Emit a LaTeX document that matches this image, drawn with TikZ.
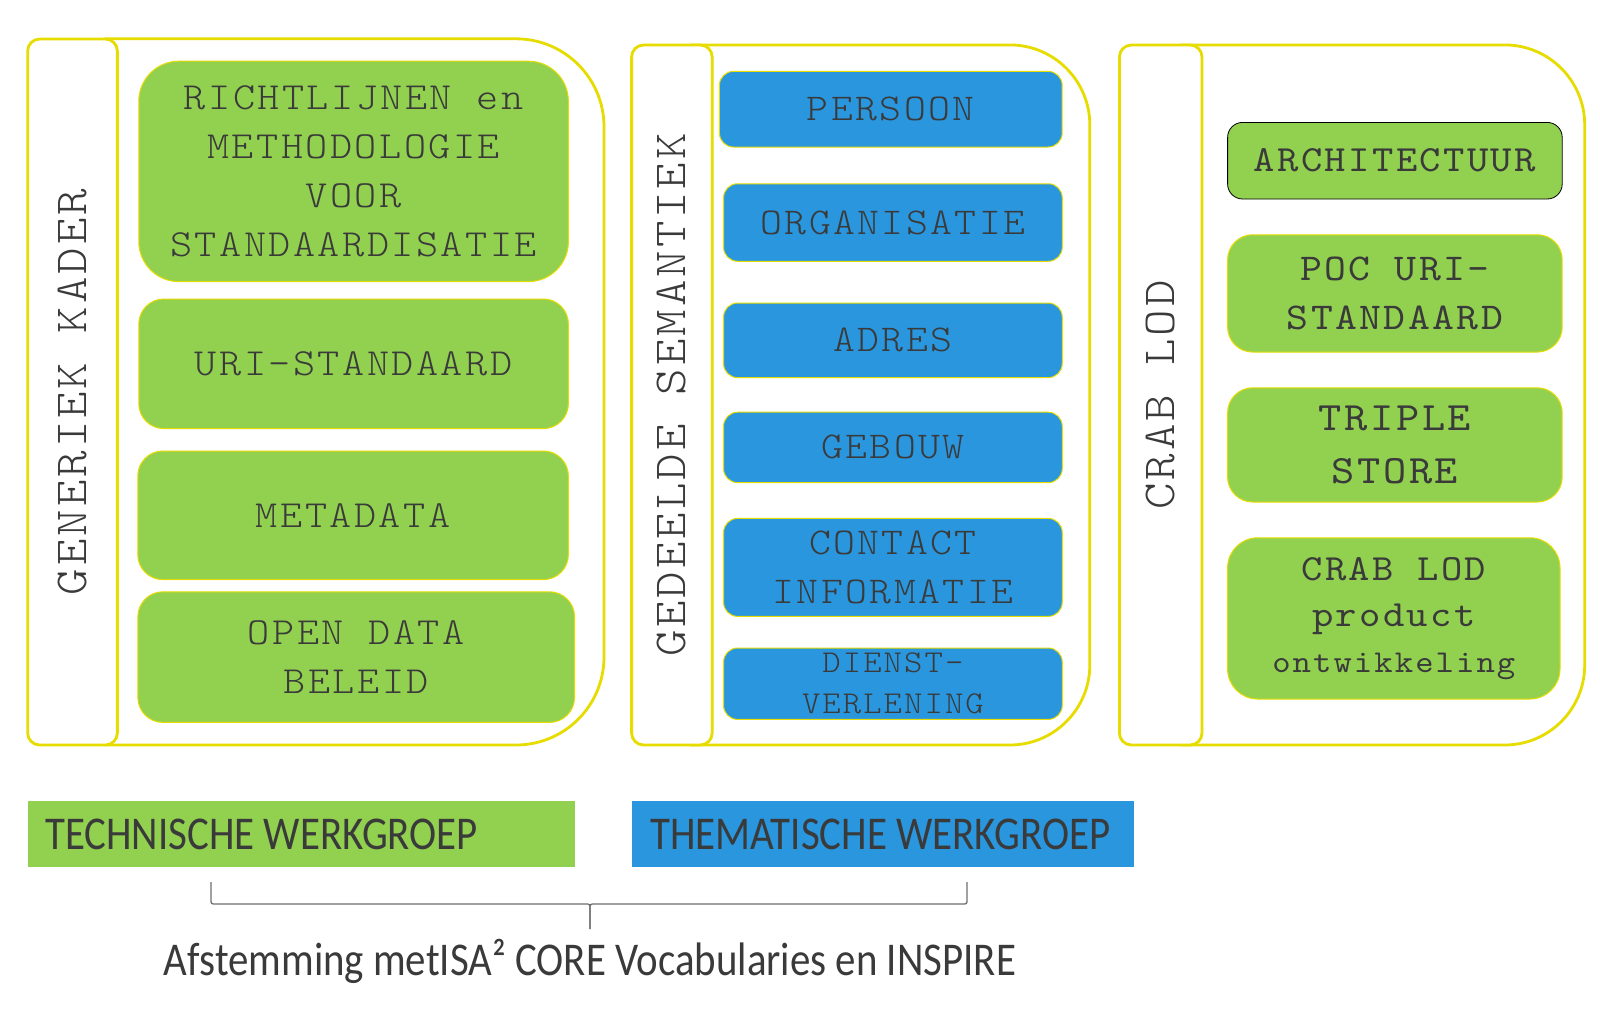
\documentclass[tikz,border=0pt]{standalone}
\usepackage{fontspec}
\usepackage{graphicx}
\setmainfont{Carlito}
\newfontfamily\mono[Extension=.otf, FakeStretch=1.1, LetterSpace=6.5]{lmmonolt10-regular}
\newfontfamily\monoheavy[Extension=.otf, FakeStretch=1.1, LetterSpace=6.5]{lmmono10-regular}
\definecolor{ygreen}{RGB}{146,208,80}
\definecolor{sblue}{RGB}{41,150,222}
\definecolor{ylw}{RGB}{230,220,0}
\definecolor{txt}{RGB}{58,58,58}
\definecolor{brc}{RGB}{110,110,110}
\tikzset{
  panel/.style={draw=ylw, line width=2.8pt, fill=white},
  strip/.style={draw=ylw, line width=2.8pt, fill=white, rounded corners=12pt, rotate=90,
    text=txt, inner sep=0pt, font=\mono\fontsize{45.8}{58}\selectfont},
  gbox/.style={draw=ylw, line width=1pt, fill=ygreen, text=txt, align=center, inner sep=0pt},
  bbox/.style={draw=ylw, line width=1pt, fill=sblue, text=txt, align=center, inner sep=0pt},
  wgbox/.style={draw=none, inner sep=0pt},
  wgtext/.style={text=txt, inner sep=0pt, font=\fontsize{47}{56}\selectfont},
  bracepath/.style={draw=brc, line width=1.3pt},
}
\begin{document}
\begin{tikzpicture}[x=1pt, y=-1pt]
\useasboundingbox (0,0) rectangle (1600,1023);

% ---------- Panel 1 ----------
\draw[panel, rounded corners=88pt] (105,38.8) -- (604,38.8) -- (604,745) -- (105,745);
\node[strip, minimum width=706pt, minimum height=89.7pt] (s1) at (72.5,392) {GENERIEK KADER};
\node[gbox, rounded corners=40pt, minimum width=429.6pt, minimum height=220.4pt,
  font=\mono\fontsize{38.3}{49}\selectfont] (richt) at (353.6,171.4)
  {RICHTLIJNEN en\\METHODOLOGIE\\VOOR\\STANDAARDISATIE};
\node[gbox, rounded corners=25pt, minimum width=429.6pt, minimum height=129.6pt,
  font=\mono\fontsize{38.3}{49}\selectfont] (uri) at (353.6,363.8) {URI-STANDAARD};
\node[gbox, rounded corners=25pt, minimum width=430.6pt, minimum height=128.6pt,
  font=\mono\fontsize{38.3}{49}\selectfont] (meta) at (353.1,515.3) {METADATA};
\node[gbox, rounded corners=25pt, minimum width=436.7pt, minimum height=130.6pt,
  font=\mono\fontsize{38.3}{49}\selectfont] (open) at (356.2,657.1) {OPEN DATA\\BELEID};

% ---------- Panel 2 ----------
\draw[panel, rounded corners=80pt] (690,44.9) -- (1089.8,44.9) -- (1089.8,745) -- (690,745);
\node[strip, minimum width=700pt, minimum height=80.6pt] (s2) at (671.9,395) {GEDEELDE SEMANTIEK};
\node[bbox, rounded corners=14pt, minimum width=342.8pt, minimum height=75.6pt,
  font=\mono\fontsize{37.85}{49}\selectfont] (pers) at (890.8,109.2) {PERSOON};
\node[bbox, rounded corners=14pt, minimum width=338.7pt, minimum height=77.5pt,
  font=\mono\fontsize{37.85}{49}\selectfont] (org) at (892.9,222.5) {ORGANISATIE};
\node[bbox, rounded corners=14pt, minimum width=338.7pt, minimum height=74.6pt,
  font=\mono\fontsize{37.85}{49}\selectfont] (adres) at (892.9,340.3) {ADRES};
\node[bbox, rounded corners=14pt, minimum width=338.7pt, minimum height=70.4pt,
  font=\mono\fontsize{37.85}{49}\selectfont] (gebouw) at (892.9,447.4) {GEBOUW};
\node[bbox, rounded corners=14pt, minimum width=338.7pt, minimum height=97.9pt,
  font=\mono\fontsize{37.85}{49}\selectfont] (contact) at (892.9,567.4) {CONTACT\\INFORMATIE};
\node[bbox, rounded corners=14pt, minimum width=338.7pt, minimum height=71.4pt,
  font=\mono\fontsize{31.8}{41}\selectfont] (dienst) at (892.9,683.7) {DIENST-\\VERLENING};

% ---------- Panel 3 ----------
\draw[panel, rounded corners=80pt] (1180,44.9) -- (1584.7,44.9) -- (1584.7,745) -- (1180,745);
\node[strip, minimum width=700pt, minimum height=82.6pt] (s3) at (1160.7,395) {CRAB LOD};
\node[gbox, draw=black, line width=0.8pt, rounded corners=15pt, minimum width=334.6pt, minimum height=76.6pt,
  font=\monoheavy\fontsize{36.9}{49}\selectfont] (arch) at (1394.9,160.7) {ARCHITECTUUR};
\node[gbox, rounded corners=25pt, minimum width=334.6pt, minimum height=117.3pt,
  font=\monoheavy\fontsize{37.85}{49}\selectfont] (poc) at (1394.9,293.4) {POC URI-\\STANDAARD};
\node[gbox, rounded corners=25pt, minimum width=334.6pt, minimum height=114.2pt,
  font=\monoheavy\fontsize{40.2}{53}\selectfont] (triple) at (1394.9,444.9) {TRIPLE\\STORE};
\node[gbox, rounded corners=30pt, minimum width=332.4pt, minimum height=161.2pt,
  font=\monoheavy\fontsize{36.9}{46}\selectfont] (crab) at (1393.8,618.4)
  {CRAB LOD\\product\\{\fontsize{31.8}{46}\selectfont ontwikkeling}};

% ---------- Bottom ----------
\node[wgbox, fill=ygreen, minimum width=546.9pt, minimum height=66.3pt] (tw) at (301.05,834.15) {};
\node[wgtext, anchor=base west] (twt) at (45,849) {\scalebox{0.87}[1]{TECHNISCHE WERKGROEP}};
\node[wgbox, fill=sblue, minimum width=502.1pt, minimum height=66.3pt] (th) at (882.65,834.15) {};
\node[wgtext, anchor=base west] (tht) at (650,849) {\scalebox{0.87}[1]{THEMATISCHE WERKGROEP}};

\coordinate (bl) at (211,882);
\coordinate (br) at (967,882);
\coordinate (bt) at (590,929);
\draw[bracepath] (bl) -- (211,899) .. controls (211,904) .. (216,904) -- (585,904)
  .. controls (590,904) .. (590,909) -- (bt);
\draw[bracepath] (bt) -- (590,909) .. controls (590,904) .. (595,904) -- (962,904)
  .. controls (967,904) .. (967,899) -- (br);

\node[wgtext, anchor=base] (cap) at (590,975) {\scalebox{0.87}[1]{Afstemming metISA² CORE Vocabularies en INSPIRE}};
\end{tikzpicture}
\end{document}
